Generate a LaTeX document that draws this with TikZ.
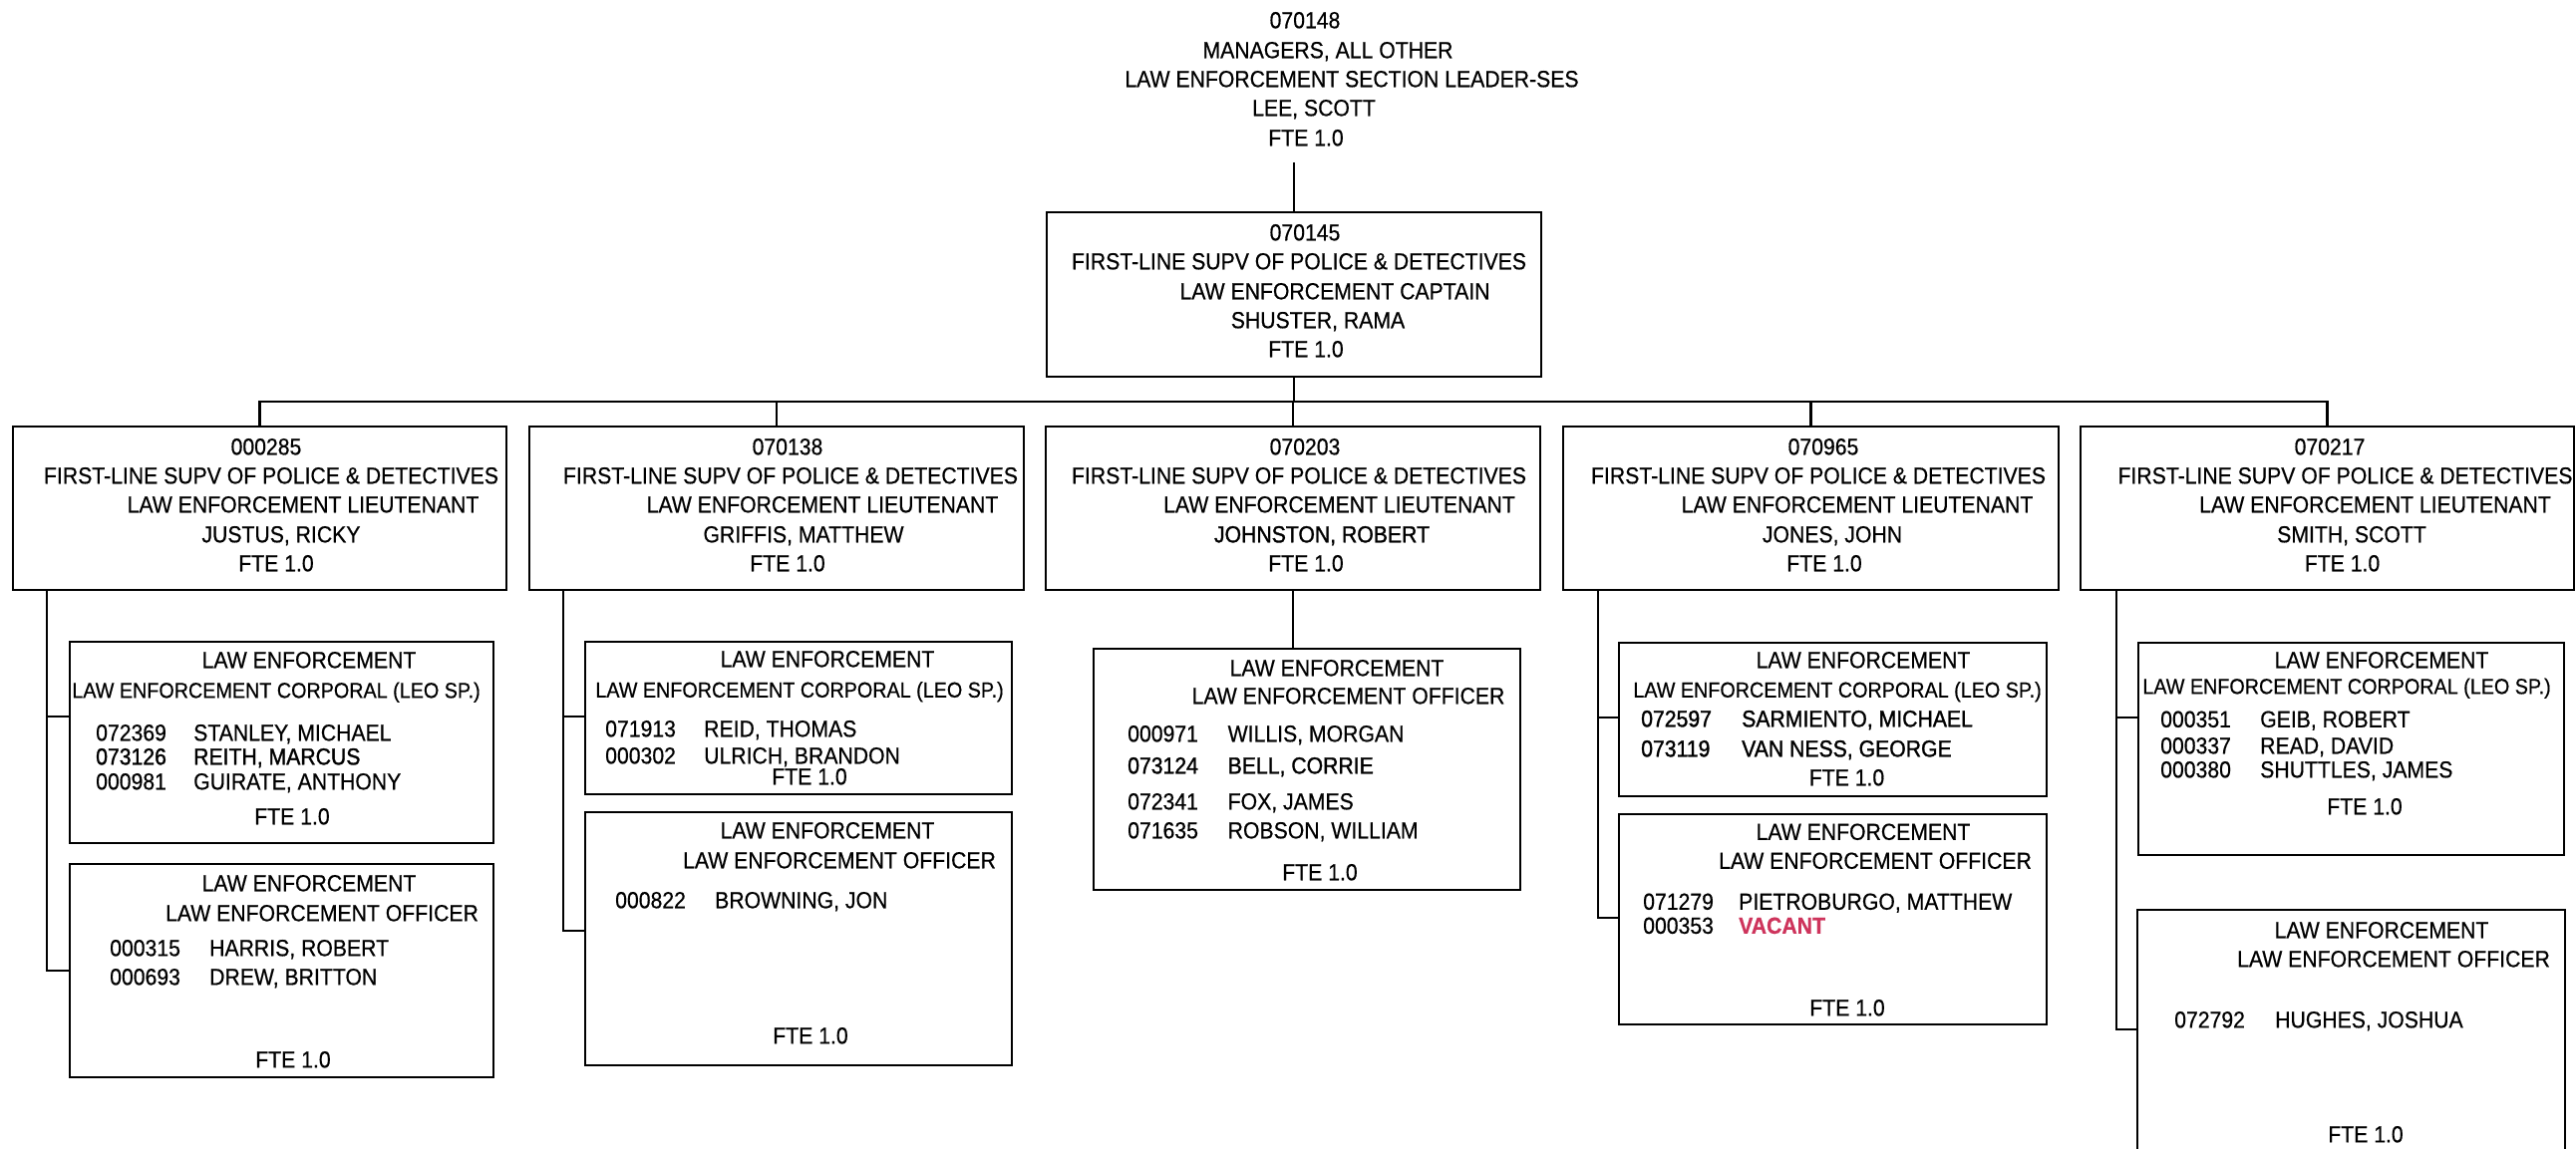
\documentclass[tikz,border=0pt]{standalone}
\usepackage{fontspec}
\setmainfont{Liberation Sans}[FakeStretch=0.91,FakeBold=0.5]
\newfontfamily\heavier{Liberation Sans}[FakeStretch=0.91,FakeBold=1.3]
\usetikzlibrary{calc}
\definecolor{vacantred}{RGB}{206,52,92}
\newcommand\szA{\fontsize{23.3}{28}\selectfont}
\newcommand\szB{\fontsize{21.7}{26}\selectfont}
% centred line of text: name, centre x, cap-centre y, text
\newcommand\lineC[4]{\node[txt,anchor=base] (#1) at (#2,#3+8.3) {#4};}
% smaller centred line (corporal title)
\newcommand\corpC[4]{\node[txt,anchor=base,font=\szB] (#1) at (#2,#3+7.8) {#4};}
% roster row: name, number x, person x, y, number, person
\newcommand\rowL[6]{%
  \node[txt,anchor=base west] (#1n) at (#2,#4+8.3) {#5};%
  \node[txt,anchor=base west] (#1p) at (#3,#4+8.3) {#6};}
% box from left/right/top/bottom edges
\newcommand\boxLR[5]{\node[box,minimum width={#3-#2},minimum height={#5-#4}] (#1) at ({(#2+#3)/2},{(#4+#5)/2}) {};}
\begin{document}
\begin{tikzpicture}[x=1pt,y=-1pt,
  txt/.style={inner sep=0pt,font=\szA},
  box/.style={draw,line width=2.2pt,inner sep=0pt},
  wire/.style={line width=2.2pt}]
\fill[white] (0,0) rectangle (2584,1153);
\useasboundingbox (0,0) rectangle (2584,1153);

% ---- section leader (no box)
\lineC{t1}{1309}{20}{070148}
\lineC{t2}{1332}{50}{MANAGERS, ALL OTHER}
\lineC{t3}{1356}{79}{LAW ENFORCEMENT SECTION LEADER-SES}
\lineC{t4}{1318}{108}{LEE, SCOTT}
\lineC{t5}{1310}{138}{FTE 1.0}
\coordinate (tstem) at (1298,163);

% ---- captain
\boxLR{cap}{1050}{1546}{213}{378}
\lineC{cap1}{1309}{233}{070145}
\lineC{cap2}{1303}{262}{FIRST-LINE SUPV OF POLICE \& DETECTIVES}
\lineC{cap3}{1339}{292}{LAW ENFORCEMENT CAPTAIN}
\lineC{cap4}{1322}{321}{SHUSTER, RAMA}
\lineC{cap5}{1310}{350}{FTE 1.0}

% ---- lieutenants
\boxLR{b1}{13}{508}{428}{592}
\lineC{b1a}{267}{448}{000285}
\lineC{b1b}{272}{477}{FIRST-LINE SUPV OF POLICE \& DETECTIVES}
\lineC{b1c}{304}{506}{LAW ENFORCEMENT LIEUTENANT}
\lineC{b1d}{282}{536}{JUSTUS, RICKY}
\lineC{b1e}{277}{565}{FTE 1.0}

\boxLR{b2}{531}{1027}{428}{592}
\lineC{b2a}{790}{448}{070138}
\lineC{b2b}{793}{477}{FIRST-LINE SUPV OF POLICE \& DETECTIVES}
\lineC{b2c}{825}{506}{LAW ENFORCEMENT LIEUTENANT}
\lineC{b2d}{806}{536}{GRIFFIS, MATTHEW}
\lineC{b2e}{790}{565}{FTE 1.0}

\boxLR{b3}{1049}{1545}{428}{592}
\lineC{b3a}{1309}{448}{070203}
\lineC{b3b}{1303}{477}{FIRST-LINE SUPV OF POLICE \& DETECTIVES}
\lineC{b3c}{1343.5}{506}{LAW ENFORCEMENT LIEUTENANT}
\lineC{b3d}{1326}{536}{{\heavier JOHNSTON, ROBERT}}
\lineC{b3e}{1310}{565}{FTE 1.0}

\boxLR{b4}{1568}{2065}{428}{592}
\lineC{b4a}{1829}{448}{070965}
\lineC{b4b}{1824}{477}{FIRST-LINE SUPV OF POLICE \& DETECTIVES}
\lineC{b4c}{1863}{506}{LAW ENFORCEMENT LIEUTENANT}
\lineC{b4d}{1838}{536}{JONES, JOHN}
\lineC{b4e}{1830}{565}{FTE 1.0}

\boxLR{b5}{2087}{2582}{428}{592}
\lineC{b5a}{2337}{448}{070217}
\lineC{b5b}{2352.5}{477}{FIRST-LINE SUPV OF POLICE \& DETECTIVES}
\lineC{b5c}{2382.5}{506}{LAW ENFORCEMENT LIEUTENANT}
\lineC{b5d}{2359}{536}{SMITH, SCOTT}
\lineC{b5e}{2349.5}{565}{FTE 1.0}

% ---- column 1 units
\boxLR{c1a}{70}{495}{644}{846}
\lineC{c1a1}{310}{662}{LAW ENFORCEMENT}
\corpC{c1a2}{277}{692.5}{LAW ENFORCEMENT CORPORAL (LEO SP.)}
\rowL{r1a1}{96}{194}{735}{072369}{STANLEY, MICHAEL}
\rowL{r1a2}{96}{194}{759}{{\heavier 073126}}{{\heavier REITH, MARCUS}}
\rowL{r1a3}{96}{194}{784}{000981}{GUIRATE, ANTHONY}
\lineC{c1a3}{293}{819}{FTE 1.0}

\boxLR{c1b}{70}{495}{867}{1081}
\lineC{c1b1}{310}{886}{LAW ENFORCEMENT}
\lineC{c1b2}{323}{916}{LAW ENFORCEMENT OFFICER}
\rowL{r1b1}{110}{210}{951}{000315}{HARRIS, ROBERT}
\rowL{r1b2}{110}{210}{980}{000693}{DREW, BRITTON}
\lineC{c1b3}{294}{1063}{FTE 1.0}

% ---- column 2 units
\boxLR{c2a}{587}{1015}{644}{797}
\lineC{c2a1}{830}{661}{LAW ENFORCEMENT}
\corpC{c2a2}{802}{692}{LAW ENFORCEMENT CORPORAL (LEO SP.)}
\rowL{r2a1}{607}{706}{731}{071913}{REID, THOMAS}
\rowL{r2a2}{607}{706}{758}{000302}{ULRICH, BRANDON}
\lineC{c2a3}{812}{779}{FTE 1.0}

\boxLR{c2b}{587}{1015}{815}{1069}
\lineC{c2b1}{830}{833}{LAW ENFORCEMENT}
\lineC{c2b2}{842}{863}{LAW ENFORCEMENT OFFICER}
\rowL{r2b1}{617}{717}{903}{000822}{BROWNING, JON}
\lineC{c2b3}{813}{1039}{FTE 1.0}

% ---- column 3 unit
\boxLR{c3a}{1097}{1525}{651}{893}
\lineC{c3a1}{1341}{670}{LAW ENFORCEMENT}
\lineC{c3a2}{1352.5}{698}{LAW ENFORCEMENT OFFICER}
\rowL{r3a1}{1131}{1231.5}{736}{000971}{WILLIS, MORGAN}
\rowL{r3a2}{1131}{1231.5}{768}{{\heavier 073124}}{{\heavier BELL, CORRIE}}
\rowL{r3a3}{1131}{1231.5}{804}{072341}{FOX, JAMES}
\rowL{r3a4}{1131}{1231.5}{833}{071635}{ROBSON, WILLIAM}
\lineC{c3a3}{1324}{875}{FTE 1.0}

% ---- column 4 units
\boxLR{c4a}{1624}{2053}{645}{799}
\lineC{c4a1}{1869}{662}{LAW ENFORCEMENT}
\corpC{c4a2}{1843}{692}{LAW ENFORCEMENT CORPORAL (LEO SP.)}
\rowL{r4a1}{1646}{1747}{721}{{\heavier 072597}}{{\heavier SARMIENTO, MICHAEL}}
\rowL{r4a2}{1646}{1747}{751}{{\heavier 073119}}{{\heavier VAN NESS, GEORGE}}
\lineC{c4a3}{1852.5}{780}{FTE 1.0}

\boxLR{c4b}{1624}{2053}{817}{1028}
\lineC{c4b1}{1869}{834.5}{LAW ENFORCEMENT}
\lineC{c4b2}{1881}{863.5}{LAW ENFORCEMENT OFFICER}
\rowL{r4b1}{1648}{1744}{904.5}{071279}{PIETROBURGO, MATTHEW}
\rowL{r4b2}{1648}{1744}{928.6}{000353}{\textcolor{vacantred}{\bfseries VACANT}}
\lineC{c4b3}{1853}{1011}{FTE 1.0}

% ---- column 5 units
\boxLR{c5a}{2145}{2572}{645}{858}
\lineC{c5a1}{2389}{662}{LAW ENFORCEMENT}
\corpC{c5a2}{2354}{688.5}{LAW ENFORCEMENT CORPORAL (LEO SP.)}
\rowL{r5a1}{2167}{2267}{721.5}{000351}{GEIB, ROBERT}
\rowL{r5a2}{2167}{2267}{748}{000337}{READ, DAVID}
\rowL{r5a3}{2167}{2267}{772}{000380}{SHUTTLES, JAMES}
\lineC{c5a3}{2372}{809}{FTE 1.0}

% last unit runs past the bottom edge: open box
\node[box,draw=none,minimum width=427,minimum height=266] (c5b) at (2358.5,1047) {};
\draw[wire] (c5b.south west) -- (c5b.north west) -- (c5b.north east) -- (c5b.south east);
\lineC{c5b1}{2389}{933}{LAW ENFORCEMENT}
\lineC{c5b2}{2401}{962}{LAW ENFORCEMENT OFFICER}
\rowL{r5b1}{2181}{2282}{1023}{072792}{HUGHES, JOSHUA}
\lineC{c5b3}{2373}{1138}{FTE 1.0}

% ---- reporting lines
\draw[wire] (tstem) -- (tstem |- cap.north);
\coordinate (bus) at (0,403);
\draw[wire] (cap.south) -- (cap.south |- bus);
\draw[wire] (b1.north) -- (b1.north |- bus) -- (b5.north |- bus) -- (b5.north);
\foreach \b in {b2,b3,b4} \draw[wire] (\b.north) -- (\b.north |- bus);

% trunks hanging below each lieutenant
\coordinate (k1) at (47,0);
\coordinate (k2) at (565,0);
\coordinate (k4) at (1603,0);
\coordinate (k5) at (2123,0);
\coordinate (e1a) at ($(c1a.north west)+(0,76)$);
\coordinate (e1b) at ($(c1b.north west)+(0,108)$);
\coordinate (e2a) at ($(c2a.north west)+(0,76)$);
\coordinate (e2b) at ($(c2b.north west)+(0,120)$);
\coordinate (e4a) at ($(c4a.north west)+(0,76)$);
\coordinate (e4b) at ($(c4b.north west)+(0,105)$);
\coordinate (e5a) at ($(c5a.north west)+(0,76)$);
\coordinate (e5b) at ($(c5b.north west)+(0,120)$);

\draw[wire] (b1.south -| k1) |- (e1b);
\draw[wire] (k1 |- e1a) -- (e1a);
\draw[wire] (b2.south -| k2) |- (e2b);
\draw[wire] (k2 |- e2a) -- (e2a);
\draw[wire] (b3.south) -- (b3.south |- c3a.north);
\draw[wire] (b4.south -| k4) |- (e4b);
\draw[wire] (k4 |- e4a) -- (e4a);
\draw[wire] (b5.south -| k5) |- (e5b);
\draw[wire] (k5 |- e5a) -- (e5a);
\end{tikzpicture}
\end{document}
